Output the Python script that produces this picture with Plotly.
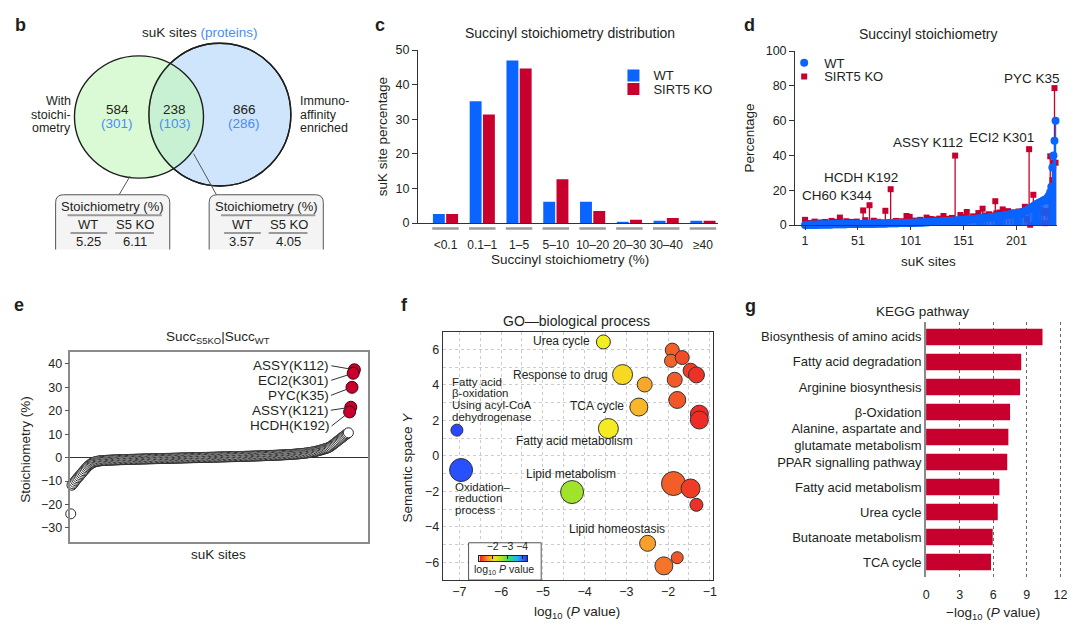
import plotly.graph_objects as go

W, H = 1080, 633
def X(p): return p / W
def Y(p): return 1 - p / H

FONT = "Liberation Sans, Arial, Helvetica, sans-serif"
TXT = "#231f20"
BLUE = "#0a64ff"
RED = "#c8002e"
LBLUE = "#4a8cf7"

# ---------------- data ----------------
# b: Venn
venn_counts = [584, 238, 866]
venn_proteins = [301, 103, 286]
box_groups = ["WT", "S5 KO"]
box_left_vals = [5.25, 6.11]
box_right_vals = [3.57, 4.05]

# c: distribution
dist_bins = ["<0.1", "0.1–1", "1–5", "5–10", "10–20", "20–30", "30–40", "≥40"]
dist_wt = [2.6, 35.2, 47.0, 6.2, 6.2, 0.4, 0.7, 0.7]
dist_ko = [2.6, 31.4, 44.7, 12.7, 3.5, 1.0, 1.5, 0.7]

# d: per-site stoichiometry
wt_pct = [
    0.05, 0.08, 0.10, 0.12, 0.14, 0.15, 0.17, 0.18, 0.20, 0.21,
    0.22, 0.23, 0.25, 0.26, 0.27, 0.28, 0.30, 0.31, 0.32, 0.33,
    0.34, 0.35, 0.36, 0.37, 0.38, 0.39, 0.40, 0.41, 0.42, 0.43,
    0.44, 0.45, 0.46, 0.47, 0.48, 0.49, 0.50, 0.51, 0.52, 0.53,
    0.54, 0.55, 0.56, 0.57, 0.58, 0.59, 0.60, 0.61, 0.62, 0.63,
    0.64, 0.65, 0.66, 0.68, 0.69, 0.70, 0.71, 0.72, 0.73, 0.74,
    0.75, 0.77, 0.78, 0.79, 0.80, 0.81, 0.82, 0.84, 0.85, 0.86,
    0.87, 0.88, 0.90, 0.91, 0.92, 0.93, 0.95, 0.96, 0.97, 0.98,
    1.00, 1.01, 1.02, 1.04, 1.05, 1.06, 1.08, 1.09, 1.10, 1.12,
    1.13, 1.15, 1.16, 1.18, 1.19, 1.21, 1.22, 1.24, 1.25, 1.27,
    1.29, 1.31, 1.33, 1.35, 1.37, 1.39, 1.41, 1.43, 1.45, 1.47,
    1.50, 1.52, 1.54, 1.57, 1.59, 1.62, 1.64, 1.67, 1.70, 1.72,
    1.75, 1.78, 1.81, 1.84, 1.87, 1.90, 1.93, 1.96, 2.00, 2.03,
    2.06, 2.10, 2.13, 2.17, 2.21, 2.25, 2.29, 2.33, 2.37, 2.41,
    2.45, 2.50, 2.54, 2.59, 2.63, 2.68, 2.73, 2.78, 2.83, 2.88,
    2.93, 2.99, 3.04, 3.10, 3.16, 3.22, 3.28, 3.34, 3.40, 3.45,
    3.50, 3.55, 3.60, 3.65, 3.70, 3.75, 3.80, 3.85, 3.90, 3.95,
    4.00, 4.08, 4.16, 4.24, 4.32, 4.40, 4.48, 4.56, 4.64, 4.72,
    4.80, 4.88, 4.96, 5.04, 5.12, 5.20, 5.30, 5.40, 5.50, 5.60,
    5.70, 5.80, 5.90, 6.00, 6.10, 6.20, 6.30, 6.40, 6.50, 6.60,
    6.70, 6.82, 6.94, 7.06, 7.20, 7.36, 7.52, 7.70, 7.90, 8.15,
    8.45, 8.80, 9.20, 9.60, 10.0, 10.4, 10.8, 11.2, 11.6, 12.0,
    12.4, 12.7, 13.0, 13.3, 13.6, 13.9, 14.2, 14.5, 14.9, 15.4,
    16.2, 17.2, 19.0, 22.0, 33.0, 40.0, 48.5, 60.0,
]
wt_sites = list(range(1, len(wt_pct) + 1))
ko_sites = [1, 5, 10, 15, 20, 26, 30, 34, 40, 45, 50, 56, 58, 62, 66, 70, 77, 82, 87, 92,
            97, 100, 105, 110, 116, 120, 125, 128, 132, 136, 140, 143, 146, 148, 152, 154,
            157, 160, 165, 169, 172, 175, 178, 181, 182, 185, 188, 190, 193, 196, 200, 203,
            206, 209, 211, 213, 214, 217, 219, 220, 222, 224, 226, 228, 229, 231, 232, 233,
            235, 236, 237, 238]
ko_pct = [3.0, 1.2, 2.0, 1.5, 1.8, 2.4, 1.9, 4.3, 2.2, 1.8, 2.0, 8.4, 2.8, 11.4, 2.5, 1.9, 8.2, 20.6, 2.4, 2.2,
          5.2, 4.7, 2.6, 3.0, 4.3, 3.5, 3.2, 3.7, 5.2, 3.6, 4.1, 39.9, 3.0, 5.8, 4.6, 7.5,
          4.0, 5.0, 6.9, 9.4, 5.5, 6.2, 5.6, 13.7, 6.7, 7.2, 9.0, 6.5, 8.0, 7.3, 7.1, 7.8,
          6.0, 10.5, 3.4, 43.6, 0.2, 17.4, 11.5, 5.2, 1.5, 8.6, 7.1, 1.1, 8.0, 6.7, 13.7, 39.5,
          25.8, 36.0, 78.7, 35.8]
d_labels = ["CH60 K344", "HCDH K192", "ASSY K112", "ECI2 K301", "PYC K35"]

# e: KO - WT difference, sorted
e_open = [
    -24.0, -11.8, -11.2, -10.5, -9.8, -9.2, -8.6, -8.0, -7.4, -6.8,
    -6.2, -5.6, -5.0, -4.4, -3.9, -3.4, -3.0, -2.6, -2.3, -2.05,
    -1.85, -1.70, -1.60, -1.50, -1.42, -1.36, -1.31, -1.27, -1.23, -1.20,
    -1.17, -1.14, -1.11, -1.09, -1.06, -1.04, -1.02, -1.00, -0.98, -0.96,
    -0.94, -0.92, -0.90, -0.88, -0.86, -0.84, -0.83, -0.81, -0.79, -0.78,
    -0.76, -0.75, -0.73, -0.72, -0.70, -0.69, -0.67, -0.66, -0.64, -0.63,
    -0.61, -0.60, -0.59, -0.57, -0.56, -0.55, -0.53, -0.52, -0.51, -0.49,
    -0.48, -0.47, -0.45, -0.44, -0.43, -0.41, -0.40, -0.39, -0.37, -0.36,
    -0.35, -0.33, -0.32, -0.31, -0.29, -0.28, -0.27, -0.25, -0.24, -0.23,
    -0.21, -0.20, -0.19, -0.17, -0.16, -0.15, -0.13, -0.12, -0.11, -0.09,
    -0.08, -0.07, -0.05, -0.04, -0.03, -0.01, 0.00, 0.01, 0.03, 0.04,
    0.05, 0.07, 0.08, 0.09, 0.11, 0.12, 0.13, 0.15, 0.16, 0.17,
    0.19, 0.20, 0.21, 0.23, 0.24, 0.25, 0.27, 0.28, 0.29, 0.31,
    0.32, 0.33, 0.35, 0.36, 0.37, 0.39, 0.40, 0.42, 0.43, 0.44,
    0.46, 0.47, 0.49, 0.50, 0.52, 0.53, 0.55, 0.56, 0.58, 0.59,
    0.61, 0.62, 0.64, 0.66, 0.67, 0.69, 0.71, 0.72, 0.74, 0.76,
    0.78, 0.80, 0.82, 0.84, 0.86, 0.88, 0.90, 0.92, 0.94, 0.96,
    0.98, 1.00, 1.02, 1.05, 1.07, 1.09, 1.12, 1.14, 1.17, 1.20,
    1.23, 1.26, 1.29, 1.32, 1.35, 1.38, 1.42, 1.46, 1.50, 1.54,
    1.58, 1.63, 1.68, 1.73, 1.78, 1.84, 1.90, 1.97, 2.04, 2.12,
    2.20, 2.29, 2.38, 2.48, 2.58, 2.70, 2.82, 2.95, 3.10, 3.25,
    3.40, 3.55, 3.70, 3.85, 4.00, 4.20, 4.45, 4.75, 5.10, 5.50,
    5.90, 6.30, 6.70, 7.10, 7.50, 7.90, 8.30, 8.70, 9.10, 9.50,
    9.90, 10.20, 10.60,
]
e_rank = list(range(1, len(e_open) + 1))
e_red_labels = ["ASSY(K112)", "ECI2(K301)", "PYC(K35)", "ASSY(K121)", "HCDH(K192)"]
e_red_rank = [238, 237, 236, 235, 234]
e_red_vals = [37.5, 36.0, 30.0, 21.5, 19.5]

# f: GO bubbles
go_terms = ["Urea cycle", "Response to drug", "", "TCA cycle", "Fatty acid metabolism",
            "Fatty acid β-oxidation using acyl-CoA dehydrogenase", "Oxidation–reduction process",
            "Lipid metabolism", "Lipid homeostasis", "", "", "", "", "", "", "", "", "", "", "",
            "", "", ""]
go_logp = [-3.55, -3.09, -2.56, -2.70, -3.43, -7.06, -6.96, -4.30, -2.49, -2.10, -1.78,
           -1.90, -1.93, -1.66, -1.46, -1.32, -1.84, -1.78, -1.25, -1.25, -1.87, -1.46, -1.32]
go_semy = [6.42, 4.58, 4.02, 2.75, 1.54, 1.45, -0.80, -2.04, -4.93, -6.20, -5.74,
           5.96, 5.36, 5.54, 4.80, 4.56, 4.29, 3.15, 2.35, 2.02, -1.56, -1.84, -2.76]
go_size = [14, 20, 15, 18, 20, 12, 23, 23, 16, 18, 12,
           14, 13, 14, 15, 16, 15, 17, 18, 18, 24, 19, 13]
cb_vals = [-1.1, -1.3, -1.5, -1.7, -1.9, -2.1, -2.3, -2.5, -2.7, -2.9, -3.1, -3.3,
           -3.5, -3.7, -3.9, -4.1, -4.33]
cb_ticks = [-2, -3, -4]

# g: KEGG
kegg_terms = ["Biosynthesis of amino acids", "Fatty acid degradation", "Arginine biosynthesis",
              "β-Oxidation", "Alanine, aspartate and<br>glutamate metabolism",
              "PPAR signalling pathway", "Fatty acid metabolism", "Urea cycle",
              "Butanoate metabolism", "TCA cycle"]
kegg_vals = [10.4, 8.5, 8.4, 7.5, 7.35, 7.25, 6.55, 6.4, 5.95, 5.8]

# ---------------- figure ----------------
fig = go.Figure()

# c
fig.add_trace(go.Bar(x=list(range(len(dist_bins))), y=dist_wt, name="WT", marker=dict(color=BLUE, line_width=0),
                     xaxis="x2", yaxis="y2", legend="legend"))
fig.add_trace(go.Bar(x=list(range(len(dist_bins))), y=dist_ko, name="SIRT5 KO", marker=dict(color=RED, line_width=0),
                     xaxis="x2", yaxis="y2", legend="legend3"))

# d
fig.add_trace(go.Scatter(x=ko_sites, y=ko_pct, mode="markers", name="SIRT5 KO", legend="legend4",
                         marker=dict(symbol="square", size=6, color=RED),
                         error_y=dict(type="data", symmetric=False, array=[0] * len(ko_pct), arrayminus=ko_pct,
                                      width=0, thickness=1.3, color=RED),
                         xaxis="x3", yaxis="y3", cliponaxis=False))
fig.add_trace(go.Scatter(x=wt_sites, y=wt_pct, mode="markers", name="WT", legend="legend2",
                         marker=dict(symbol="circle", size=8, color=BLUE),
                         error_y=dict(type="data", symmetric=False, array=[0] * len(wt_pct), arrayminus=wt_pct,
                                      width=0, thickness=1.3, color=BLUE),
                         xaxis="x3", yaxis="y3", cliponaxis=False))

# e
fig.add_trace(go.Scatter(x=e_rank, y=e_open, mode="markers", showlegend=False,
                         marker=dict(size=10, color="white", line=dict(color="#2a2a2a", width=1)),
                         xaxis="x4", yaxis="y4", cliponaxis=False))
fig.add_trace(go.Scatter(x=e_red_rank, y=e_red_vals, mode="markers", showlegend=False,
                         marker=dict(size=12, color=RED, line=dict(color="#4a0012", width=1)),
                         xaxis="x4", yaxis="y4", cliponaxis=False))

# f
bubble_scale = [[0, "#2a3cff"], [0.2, "#1fa0ff"], [0.35, "#30e0a0"], [0.48, "#9be22c"],
                [0.62, "#f5ef22"], [0.72, "#f8d024"], [0.8, "#f79a2c"], [0.9, "#f25a28"], [1, "#ee2b27"]]
fig.add_trace(go.Scatter(x=go_logp, y=go_semy, mode="markers", showlegend=False, text=go_terms,
                         marker=dict(size=go_size, sizemode="diameter", color=go_logp, cmin=-7.2, cmax=-1.25,
                                     colorscale=bubble_scale, line=dict(color="#333333", width=1), opacity=1),
                         xaxis="x5", yaxis="y5"))
jet_r = [[0, "#2030ff"], [0.2, "#20b0ff"], [0.4, "#30e070"], [0.55, "#b0e020"],
         [0.7, "#f0e020"], [0.85, "#f89020"], [1, "#ee2020"]]
fig.add_trace(go.Heatmap(x=cb_vals, y=[0], z=[cb_vals], colorscale=jet_r, zmin=-4.33, zmax=-1.1,
                         showscale=False, zsmooth="best", xaxis="x7", yaxis="y7"))

# g
fig.add_trace(go.Bar(x=kegg_vals, y=kegg_terms, orientation="h", showlegend=False, width=0.66,
                     marker=dict(color=RED, line_width=0), xaxis="x6", yaxis="y6"))

# ---------------- annotations ----------------
anns = []
def ann(text, x, y, size=12, xanchor="center", color=TXT, angle=0, yanchor="middle"):
    anns.append(dict(text=text, x=X(x), y=Y(y), xref="paper", yref="paper", showarrow=False,
                     xanchor=xanchor, yanchor=yanchor, textangle=angle,
                     font=dict(size=size, color=color, family=FONT)))

def lines_ann(lines, x, y0, dy, size, xanchor):
    for i, l in enumerate(lines):
        ann(l, x, y0 + i * dy, size, xanchor)

# panel letters
for letter, lx, ly in [("b", 18, 18), ("c", 380, 18), ("d", 752, 18), ("e", 16, 305), ("f", 404, 305), ("g", 753, 306)]:
    ann(f"<b>{letter}</b>", lx, ly, 18)

# b
ann(f"suK sites <span style='color:{LBLUE}'>(proteins)</span>", 198, 26, 13.5)
for cx, cnt, prot in zip([115, 173, 243], venn_counts, venn_proteins):
    ann(str(cnt), cx, 105, 13.5)
    ann(f"({prot})", cx, 119, 13.5, color=LBLUE)
lines_ann(["With", "stoichi-", "ometry"], 71, 96, 14, 12.5, "right")
lines_ann(["Immuno-", "affinity", "enriched"], 297, 96, 14, 12.5, "left")
for dx, vals in [(0, box_left_vals), (154.7, box_right_vals)]:
    ann("Stoichiometry (%)", 110.5 + dx, 204, 13)
    ann(box_groups[0], 86 + dx, 222, 13)
    ann(box_groups[1], 133 + dx, 222, 13)
    ann(f"{vals[0]:.2f}", 86 + dx, 240, 13)
    ann(f"{vals[1]:.2f}", 133 + dx, 240, 13)

# c
ann("Succinyl stoichiometry distribution", 571, 27, 14)
ann("Succinyl stoichiometry (%)", 571, 258, 13.5)
ann("suK site percentage", 382, 133, 13.5, angle=-90)

# d
ann("Succinyl stoichiometry", 932, 28, 14)
ann("suK sites", 932, 260, 13.5)
ann("Percentage", 752, 134, 13.5, angle=-90)
for lab, lx, ly in zip(d_labels, [840, 864, 932, 1006, 1037], [193, 174, 139, 133, 73]):
    ann(lab, lx, ly, 13.5)

# e
ann("Succ<sub>S5KO</sub>|Succ<sub>WT</sub>", 217, 338, 13.5)
ann("suK sites", 217, 560, 13.5)
ann("Stoichiometry (%)", 22, 452, 13.5, angle=-90)
for lab, xr, yv, ax, ay in zip(e_red_labels, e_red_rank, e_red_vals, [-23, -22, -21, -20, -18], [-4, 7, 8, 3, 14]):
    anns.append(dict(text=lab, x=xr, y=yv, xref="x4", yref="y4", showarrow=True, arrowhead=0,
                     arrowwidth=1, arrowcolor="#333333", ax=ax, ay=ay, xanchor="right", yanchor="middle",
                     standoff=5, font=dict(size=13.5, color=TXT, family=FONT)))

# f
ann("GO—biological process", 578, 321, 14)
ann("log<sub>10</sub> (<i>P</i> value)", 578, 619, 13.5)
ann("Semantic space <i>Y</i>", 408, 471, 13.5, angle=-90)
ann("Urea cycle", 593, 342, 12, "right")
ann("Response to drug", 612, 376, 12, "right")
ann("TCA cycle", 628, 408, 12, "right")
ann("Fatty acid metabolism", 576, 444, 12)
lines_ann(["Fatty acid", "β-oxidation", "Using acyl-CoA", "dehydrogenase"], 450, 383, 12, 11.5, "left")
lines_ann(["Oxidation–", "reduction", "process"], 453, 491, 11.5, 11.5, "left")
ann("Lipid metabolism", 572, 478, 12)
ann("Lipid homeostasis", 619, 534, 12)
ann("log<sub>10</sub> <i>P</i> value", 505, 576, 10.5)

# g
ann("KEGG pathway", 926, 311, 13.5)
ann("−log<sub>10</sub> (<i>P</i> value)", 997, 620, 13.5)

# ---------------- shapes ----------------
shapes = []
# Venn circles (x/y axis is a pixel-like canvas)
shapes.append(dict(type="circle", xref="x", yref="y", x0=147, x1=290, y0=37, y1=183,
                   fillcolor="#cfe5fb", line=dict(color="#1e1e1e", width=1.4), layer="below"))
shapes.append(dict(type="circle", xref="x", yref="y", x0=72, x1=202, y0=50, y1=175,
                   fillcolor="rgba(196,248,190,0.65)", line=dict(color="#1e1e1e", width=1.4), layer="below"))
shapes.append(dict(type="circle", xref="x", yref="y", x0=147, x1=290, y0=37, y1=183,
                   fillcolor="rgba(0,0,0,0)", line=dict(color="#1e1e1e", width=1.4), layer="below"))
# callouts
shapes.append(dict(type="line", xref="x", yref="y", x0=128, y0=173, x1=117, y1=192, line=dict(color="#555", width=1)))
shapes.append(dict(type="line", xref="x", yref="y", x0=192, y0=150, x1=215, y1=192, line=dict(color="#555", width=1)))
for dx in [0, 154.7]:
    l, r = 53 + dx, 168 + dx
    shapes.append(dict(type="path", xref="x", yref="y",
                       path=f"M {l},248 L {l},200 Q {l},192 {l+8},192 L {r-8},192 Q {r},192 {r},200 L {r},248",
                       fillcolor="#f4f4f4", line=dict(color="#555", width=1), layer="below"))
    shapes.append(dict(type="line", xref="x", yref="y", x0=65 + dx, x1=160 + dx, y0=213, y1=213,
                       line=dict(color="#9a9a9a", width=2)))
    shapes.append(dict(type="line", xref="x", yref="y", x0=68 + dx, x1=105 + dx, y0=231, y1=231,
                       line=dict(color="#9a9a9a", width=2)))
    shapes.append(dict(type="line", xref="x", yref="y", x0=113 + dx, x1=152 + dx, y0=231, y1=231,
                       line=dict(color="#9a9a9a", width=2)))
# c category underlines
for i in range(len(dist_bins)):
    shapes.append(dict(type="line", xref="x2", yref="paper", x0=i - 0.36, x1=i + 0.36, y0=Y(226.5), y1=Y(226.5),
                       line=dict(color="#9a9a9a", width=2.5)))
# f colour-key box (in f data units)
shapes.append(dict(type="rect", xref="x5", yref="y5", x0=-6.78, x1=-5.04, y0=-7.0, y1=-4.9,
                   fillcolor="white", line=dict(color="#555", width=1), layer="between"))

# ---------------- layout ----------------
tf = dict(family=FONT, size=12.5, color=TXT)
leg = dict(xanchor="left", yanchor="middle", bgcolor="rgba(0,0,0,0)",
           font=dict(size=13, family=FONT, color=TXT), itemwidth=30, tracegroupgap=0)
fig.update_layout(
    width=W, height=H, margin=dict(l=0, r=0, t=0, b=0),
    paper_bgcolor="white", plot_bgcolor="rgba(0,0,0,0)",
    font=dict(family=FONT, size=12, color=TXT),
    barmode="group", bargap=0.28, bargroupgap=0.1,
    annotations=anns, shapes=shapes,
    legend=dict(x=X(615), y=Y(70), **leg),
    legend3=dict(x=X(615), y=Y(84), **leg),
    legend2=dict(x=X(787), y=Y(57), **leg),
    legend4=dict(x=X(787), y=Y(71), **leg),
    # b canvas
    xaxis=dict(domain=[0, X(360)], range=[0, 360], visible=False, fixedrange=True),
    yaxis=dict(domain=[Y(250), 1], range=[250, 0], visible=False, fixedrange=True),
    # c
    xaxis2=dict(domain=[X(418), X(720)], range=[-0.75, 7.4], anchor="y2",
                tickmode="array", tickvals=list(range(len(dist_bins))), ticktext=dist_bins,
                showline=True, linecolor="#333", linewidth=1, ticks="outside", ticklen=10,
                tickcolor="rgba(0,0,0,0)", tickfont=dict(size=12, family=FONT, color=TXT),
                showgrid=False, zeroline=False),
    yaxis2=dict(domain=[Y(221), Y(44)], range=[0, 50], anchor="x2", tickvals=[0, 10, 20, 30, 40, 50],
                ticks="outside", ticklen=5, tickcolor="#333", showline=True, linecolor="#333", linewidth=1,
                showgrid=False, zeroline=False, tickfont=tf),
    # d
    xaxis3=dict(domain=[X(798), X(1062)], range=[-8.4, 239.5], anchor="y3", tickvals=[1, 51, 101, 151, 201],
                ticks="outside", ticklen=4, tickcolor="#333", showline=True, linecolor="#333", linewidth=1,
                showgrid=False, zeroline=False, tickfont=tf),
    yaxis3=dict(domain=[Y(223), Y(45)], range=[0, 100], anchor="x3", tickvals=[0, 20, 40, 60, 80, 100],
                ticks="outside", ticklen=5, tickcolor="#333", showline=True, linecolor="#333", linewidth=1,
                showgrid=False, zeroline=False, tickfont=tf),
    # e
    xaxis4=dict(domain=[X(68), X(368)], range=[0.8, 249.6], anchor="y4", showticklabels=False, ticks="",
                showline=True, mirror=True, linecolor="#8a8a8a", linewidth=1.5, showgrid=False, zeroline=False),
    yaxis4=dict(domain=[Y(547), Y(353)], range=[-36, 45], anchor="x4", tickvals=[-30, -20, -10, 0, 10, 20, 30, 40],
                ticks="outside", ticklen=4, tickcolor="#555", showline=True, mirror=True, linecolor="#8a8a8a",
                linewidth=1.5, showgrid=False, zeroline=True, zerolinecolor="#333", zerolinewidth=1, tickfont=tf),
    # f
    xaxis5=dict(domain=[X(443), X(715)], range=[-7.4, -0.93], anchor="y5", tickmode="linear", tick0=-7, dtick=1,
                showgrid=True, gridcolor="#cccccc", griddash="dot", gridwidth=1,
                minor=dict(dtick=0.5, showgrid=True, gridcolor="#cccccc", griddash="dot", gridwidth=1),
                showline=True, mirror=True, linecolor="#333", linewidth=1.2, zeroline=False, ticks="",
                tickfont=tf),
    yaxis5=dict(domain=[Y(586), Y(332)], range=[-7, 7], anchor="x5", tickmode="linear", tick0=-6, dtick=2,
                showgrid=True, gridcolor="#cccccc", griddash="dot", gridwidth=1,
                minor=dict(dtick=1, showgrid=True, gridcolor="#cccccc", griddash="dot", gridwidth=1),
                showline=True, mirror=True, linecolor="#333", linewidth=1.2, zeroline=False, ticks="",
                tickfont=tf),
    # f colour key
    xaxis7=dict(domain=[X(480), X(528)], range=[-1.1, -4.33], anchor="y7", side="top",
                tickvals=cb_ticks, ticktext=["−2", "−3", "−4"], ticks="inside", ticklen=3, tickcolor="#111",
                showline=True, mirror=True, linecolor="#222", linewidth=1, showgrid=False, zeroline=False,
                tickfont=dict(size=10.5, family=FONT, color=TXT)),
    yaxis7=dict(domain=[Y(567), Y(561)], range=[-0.5, 0.5], anchor="x7", showticklabels=False, ticks="",
                showline=True, mirror=True, linecolor="#222", linewidth=1, showgrid=False, zeroline=False),
    # g
    xaxis6=dict(domain=[X(930), X(1067)], range=[0, 12.15], anchor="y6", tickvals=[0, 3, 6, 9, 12],
                showgrid=True, gridcolor="#666", griddash="dot", gridwidth=1, zeroline=False,
                showline=False, ticks="outside", ticklen=6, tickcolor="rgba(0,0,0,0)", tickfont=tf),
    yaxis6=dict(domain=[Y(583), Y(322)], range=[9.6, -0.6], anchor="x6", categoryorder="array",
                categoryarray=kegg_terms, showline=True, linecolor="#8a8a8a", linewidth=2,
                ticks="", showgrid=False, zeroline=False,
                tickfont=dict(size=13, family=FONT, color=TXT)),
)

fig.write_html("out.html", config={"displayModeBar": False},
               post_script="document.body.style.margin='0';document.body.style.padding='0';"
                           "document.body.style.overflow='hidden';")
